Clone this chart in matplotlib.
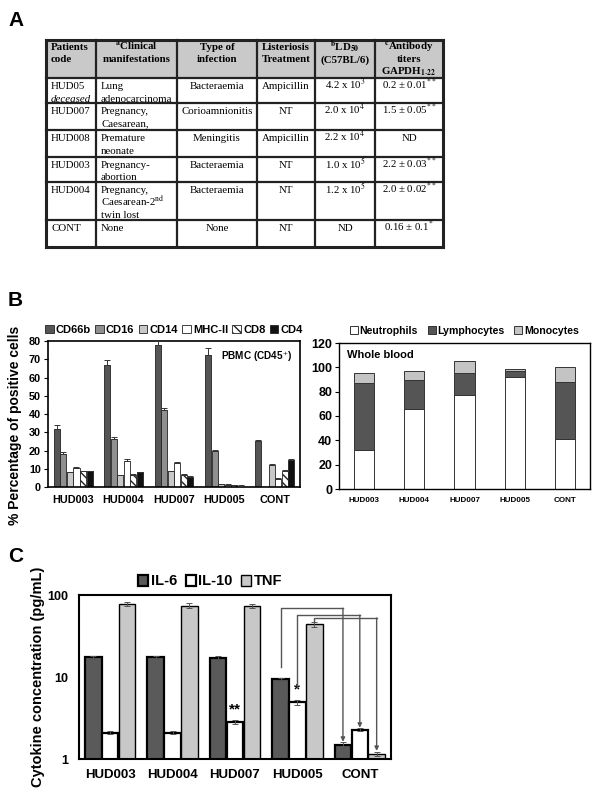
import numpy as np
import matplotlib
matplotlib.use("Agg")
import matplotlib.pyplot as plt

plt.rcParams['font.family'] = ['Liberation Sans', 'DejaVu Sans']
plt.rcParams['mathtext.fontset'] = 'stix'

# ---------------- data ----------------
# Panel A table
tbl_header = ["Patients\ncode", r"$^{\mathbf{a}}$Clinical" + "\nmanifestations", "Type of\ninfection",
              "Listeriosis\nTreatment", r"$^{\mathbf{b}}$LD$_{\mathbf{50}}$" + "\n(C57BL/6)",
              r"$^{\mathbf{c}}$Antibody" + "\ntiters\n" + r"GAPDH$_{\mathbf{1\text{-}22}}$"]
tbl_code = ["HUD05", "HUD007", "HUD008", "HUD003", "HUD004", "CONT"]
tbl_code_note = ["deceased", "", "", "", "", ""]
tbl_clinical = ["Lung\nadenocarcinoma", "Pregnancy,\nCaesarean,", "Premature\nneonate",
                "Pregnancy-\nabortion", "Pregnancy,\nCaesarean-2$^{\\mathrm{nd}}$\ntwin lost", "None"]
tbl_type = ["Bacteraemia", "Corioamnionitis", "Meningitis", "Bacteraemia", "Bacteraemia", "None"]
tbl_treat = ["Ampicillin", "NT", "Ampicillin", "NT", "NT", "NT"]
tbl_ld50 = ["4.2 x 10$^3$", "2.0 x 10$^4$", "2.2 x 10$^4$", "1.0 x 10$^5$", "1.2 x 10$^5$", "ND"]
tbl_titer = ["0.2 ± 0.01$^{**}$", "1.5 ± 0.05$^{**}$", "ND", "2.2 ± 0.03$^{**}$",
             "2.0 ± 0.02$^{**}$", "0.16 ± 0.1$^{*}$"]

# Panel B (left) PBMC markers
groups = ["HUD003", "HUD004", "HUD007", "HUD005", "CONT"]
markers = ["CD66b", "CD16", "CD14", "MHC-II", "CD8", "CD4"]
cd66b = [32, 67, 78, 72.5, 25]
cd16 = [18, 26.5, 42, 19.5, 0]
cd14 = [8, 6.5, 8.5, 1.5, 12]
mhc2 = [10.5, 14.5, 13, 1.2, 4.5]
cd8 = [8.5, 6.5, 6.5, 1.0, 9]
cd4 = [8.5, 8, 5.5, 0.8, 15]
cd66b_err = [1.8, 2.5, 2.0, 3.5, 1.0]
cd16_err = [1.2, 1.0, 1.5, 1.0, 0]
cd14_err = [0.4, 0.3, 0.4, 0.2, 0.4]
mhc2_err = [0.5, 0.6, 0.5, 0.2, 0.3]
cd8_err = [0.4, 0.4, 0.4, 0.1, 0.4]
cd4_err = [0.4, 0.4, 0.3, 0.1, 0.6]

# Panel B (right) whole blood
neutrophils = [32, 66, 77, 92, 41]
lymphocytes = [55, 24, 18, 5, 47]
monocytes = [8, 7, 10, 2, 12]

# Panel C cytokines
cytokines = ["IL-6", "IL-10", "TNF"]
il6 = [17.5, 17.5, 17.0, 9.4, 1.47]
il10 = [2.1, 2.1, 2.8, 4.9, 2.28]
tnf = [78, 74, 74, 44, 1.16]
il6_err = [0.7, 0.7, 1.0, 0.4, 0.12]
il10_err = [0.08, 0.08, 0.15, 0.3, 0.08]
tnf_err = [4, 5, 4, 3, 0.07]
sig_marks = ["", "", "**", "*", ""]

# ---------------- figure ----------------
fig = plt.figure(figsize=(6.0, 7.99), dpi=100)
W, H = 600, 799

def ax_rect(x0, y0, x1, y1):
    return [x0 / W, 1 - y1 / H, (x1 - x0) / W, (y1 - y0) / H]

# overlay for table and panel letters
ov = fig.add_axes([0, 0, 1, 1])
ov.set_xlim(0, W)
ov.set_ylim(H, 0)
ov.axis('off')

for lab, (lx, ly) in zip("ABC", [(8, 20), (8, 300), (8, 556)]):
    ov.text(lx, ly, lab, fontsize=15, fontweight='bold', va='center', ha='left')

col_x = [46, 96, 177, 257, 315, 375, 443]
row_y = [40, 78, 103, 130, 157, 182, 220, 247]
ov.add_patch(plt.Rectangle((col_x[0], row_y[0]), col_x[-1] - col_x[0], row_y[1] - row_y[0],
                           facecolor='#c9c9c9', edgecolor='none'))
for x in col_x:
    ov.plot([x, x], [row_y[0], row_y[-1]], color='#222222', lw=1.6 if x not in (col_x[0], col_x[-1]) else 2.2)
for y in row_y:
    ov.plot([col_x[0], col_x[-1]], [y, y], color='#222222', lw=1.6 if y not in (row_y[0], row_y[-1]) else 2.2)

serif = ['Liberation Serif', 'DejaVu Serif']
tfs = 7.8

def cell(x, y_first, txt, ha, step=12.5, **kw):
    for n, line in enumerate(txt.split("\n")):
        ov.text(x, y_first + n * step + 3.0, line, family=serif, fontsize=tfs, ha=ha,
                va='baseline', **kw)

for j, htxt in enumerate(tbl_header):
    if j == 0:
        cell(col_x[0] + 5, 47, htxt, 'left', step=12.5, fontweight='bold')
    else:
        cell((col_x[j] + col_x[j + 1]) / 2, 47, htxt, 'center', step=12.5, fontweight='bold')

cols = [tbl_code, tbl_clinical, tbl_type, tbl_treat, tbl_ld50, tbl_titer]
for i in range(len(tbl_code)):
    yc = row_y[i + 1] + 8
    cell(col_x[0] + 5, yc, tbl_code[i], 'left')
    if tbl_code_note[i]:
        cell(col_x[0] + 5, yc + 12.5, tbl_code_note[i], 'left', style='italic')
    cell(col_x[1] + 5, yc, tbl_clinical[i], 'left')
    for j in range(2, 6):
        cell((col_x[j] + col_x[j + 1]) / 2, yc, cols[j][i], 'center')

# ---------------- Panel B left ----------------
axL = fig.add_axes(ax_rect(48, 341, 300, 487))
xg = np.arange(len(groups))
vals = [cd66b, cd16, cd14, mhc2, cd8, cd4]
errs = [cd66b_err, cd16_err, cd14_err, mhc2_err, cd8_err, cd4_err]
fcols = ['#555555', '#8f8f8f', '#c8c8c8', 'white', 'white', '#111111']
hatches = [None, None, None, None, '\\\\\\\\', None]
bw = 0.12
step = 0.13
for k in range(6):
    xo = xg + (k - 2.5) * step
    axL.bar(xo, vals[k], width=bw, color=fcols[k], edgecolor='#222222', linewidth=0.6,
            hatch=hatches[k], label=markers[k], zorder=2)
    axL.errorbar(xo, vals[k], yerr=[np.zeros(5), errs[k]], fmt='none', ecolor='#333333',
                 elinewidth=0.7, capsize=2, capthick=0.7, zorder=3)
axL.set_xlim(-0.5, 4.5)
axL.set_ylim(0, 80)
axL.set_yticks(np.arange(0, 81, 10))
axL.set_xticks(xg)
axL.set_xticklabels(groups, fontsize=7.8, fontweight='bold')
axL.tick_params(axis='y', labelsize=7.8, length=3, pad=2)
axL.tick_params(axis='x', length=0, pad=6)
for t in axL.get_yticklabels():
    t.set_fontweight('bold')
for s in axL.spines.values():
    s.set_linewidth(1.2)
axL.text(0.97, 0.94, "PBMC (CD45$^{+}$)", transform=axL.transAxes, ha='right', va='top',
         fontsize=7.2, fontweight='bold')
axL.set_ylabel("% Percentage of positive cells", fontsize=10, fontweight='bold')
axL.yaxis.set_label_coords(-0.105, 0.42)
axL.legend(loc='lower center', bbox_to_anchor=(0.5, 1.04), ncol=6, frameon=False,
           prop={'size': 8, 'weight': 'bold'}, handlelength=0.75, handleheight=0.75,
           handletextpad=0.2, columnspacing=0.4, borderpad=0, borderaxespad=0)

# ---------------- Panel B right ----------------
axR = fig.add_axes(ax_rect(339, 343, 590, 489))
bw2 = 0.4
axR.bar(xg, neutrophils, width=bw2, color='white', edgecolor='#333333', linewidth=0.7,
        label='Neutrophils')
axR.bar(xg, lymphocytes, width=bw2, bottom=neutrophils, color='#555555', edgecolor='#333333',
        linewidth=0.7, label='Lymphocytes')
axR.bar(xg, monocytes, width=bw2, bottom=np.add(neutrophils, lymphocytes), color='#c4c4c4',
        edgecolor='#333333', linewidth=0.7, label='Monocytes')
axR.set_xlim(-0.5, 4.5)
axR.set_ylim(0, 120)
axR.set_yticks(np.arange(0, 121, 20))
axR.set_xticks(xg)
axR.set_xticklabels(groups, fontsize=5.8, fontweight='bold')
axR.tick_params(axis='y', labelsize=9, length=3, pad=2)
axR.tick_params(axis='x', length=0, pad=6)
for t in axR.get_yticklabels():
    t.set_fontweight('bold')
for s in axR.spines.values():
    s.set_linewidth(1.0)
axR.text(0.03, 0.95, "Whole blood", transform=axR.transAxes, ha='left', va='top',
         fontsize=8, fontweight='bold')
axR.legend(loc='lower center', bbox_to_anchor=(0.5, 1.05), ncol=3, frameon=False,
           prop={'size': 7.6, 'weight': 'bold'}, handlelength=0.75, handleheight=0.75,
           handletextpad=0.2, columnspacing=0.9, borderpad=0, borderaxespad=0)

# ---------------- Panel C ----------------
axC = fig.add_axes(ax_rect(79, 595, 391, 759))
cvals = [il6, il10, tnf]
cerrs = [il6_err, il10_err, tnf_err]
ccols = ['#5a5a5a', 'white', '#c8c8c8']
cw = 0.265
coff = [-0.27, 0.0, 0.27]
for k in range(3):
    xo = xg + coff[k]
    axC.bar(xo, cvals[k], width=cw, color=ccols[k], edgecolor='black',
            linewidth=1.6 if k < 2 else 1.0, label=cytokines[k], zorder=2)
    axC.errorbar(xo, cvals[k], yerr=cerrs[k], fmt='none', ecolor='#555555', elinewidth=0.7,
                 capsize=2.5, capthick=0.7, zorder=3)
axC.set_yscale('log')
axC.set_ylim(1, 100)
axC.set_xlim(-0.5, 4.5)
axC.set_yticks([1, 10, 100])
axC.set_yticklabels(["1", "10", "100"], fontsize=9, fontweight='bold')
axC.minorticks_off()
axC.set_xticks(xg)
axC.set_xticklabels(groups, fontsize=9.5, fontweight='bold')
axC.tick_params(axis='x', length=0, pad=7)
axC.tick_params(axis='y', length=0, pad=8)
for s in axC.spines.values():
    s.set_linewidth(1.5)
axC.set_ylabel("Cytokine concentration (pg/mL)", fontsize=10.5, fontweight='bold')
axC.yaxis.set_label_coords(-0.11, 0.5)
axC.legend(loc='lower center', bbox_to_anchor=(0.42, 1.04), ncol=3, frameon=False,
           prop={'size': 10.5, 'weight': 'bold'}, handlelength=0.7, handleheight=0.8,
           handletextpad=0.15, columnspacing=0.6, borderpad=0, borderaxespad=0)

for i, m in enumerate(sig_marks):
    if m:
        axC.text(xg[i] + coff[1], (il10[i] + il10_err[i]) * 1.12, m, ha='center', va='bottom',
                 fontsize=11, fontweight='bold')

# significance brackets HUD005 -> CONT
src, dst = 3, 4
top_y = [69, 57, 52.5]
start_y = [13.2, 7.6, 47]
for k in range(3):
    x0 = xg[src] + coff[k]
    x1 = xg[dst] + coff[k]
    axC.plot([x0, x0, x1], [start_y[k], top_y[k], top_y[k]], color='#555555', lw=1.0, zorder=4)
    end_y = (cvals[k][dst] + cerrs[k][dst]) * 1.02
    axC.annotate("", xy=(x1, end_y), xytext=(x1, top_y[k]),
                 arrowprops=dict(arrowstyle='-|>', color='#555555', lw=1.0,
                                 mutation_scale=6, shrinkA=0, shrinkB=0), zorder=4)

fig.savefig("out.png", dpi=100)
